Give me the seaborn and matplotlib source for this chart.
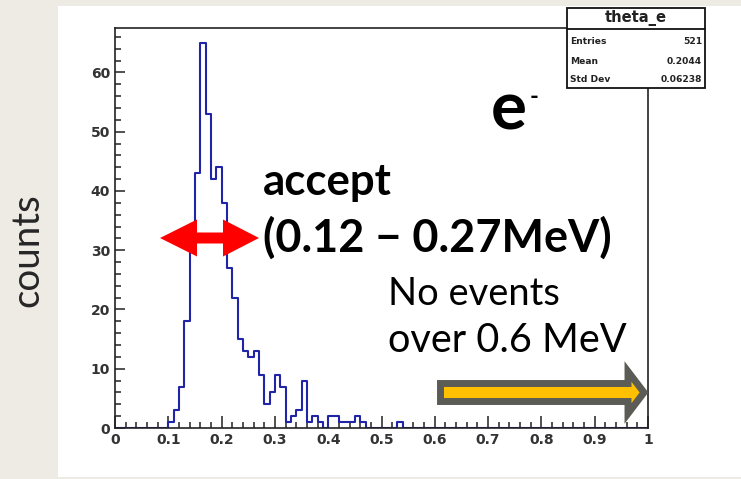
import numpy as np
import pandas as pd
import matplotlib
matplotlib.use("Agg")
import matplotlib.pyplot as plt
import seaborn as sns
from matplotlib.patches import Rectangle, Polygon
from matplotlib.lines import Line2D
from matplotlib.ticker import MultipleLocator

# ---------------- data ----------------
bin_width = 0.01
first_bin_low = 0.10
counts = [1, 3, 7, 18, 33, 43, 65, 53, 42, 44, 38, 27, 22, 15, 13, 12, 13, 9, 4, 6,
          9, 7, 1, 2, 3, 8, 1, 2, 1, 0, 2, 2, 1, 1, 1, 2, 1, 0, 0, 0, 0, 0, 0, 1]
x_ticks = [0, 0.1, 0.2, 0.3, 0.4, 0.5, 0.6, 0.7, 0.8, 0.9, 1.0]
x_tick_labels = ["0", "0.1", "0.2", "0.3", "0.4", "0.5", "0.6", "0.7", "0.8", "0.9", "1"]
y_ticks = [0, 10, 20, 30, 40, 50, 60]
y_tick_labels = ["0", "10", "20", "30", "40", "50", "60"]
stats_title = "theta_e"
stats_names = ["Entries", "Mean", "Std Dev"]
stats_values = ["521", "0.2044", "0.06238"]

# ---------------- figure ----------------
W, H = 741, 479
sns.set_theme(style="white")
plt.rcParams["font.family"] = ["Lato", "DejaVu Sans"]

fig = plt.figure(figsize=(W / 100, H / 100), dpi=100)
fig.patch.set_facecolor("#eeebe4")


def fx(px):
    return px / W


def fy(py):
    return 1 - py / H


# white slide panel
fig.add_artist(Rectangle((fx(58), fy(477)), fx(W) - fx(58), fy(6) - fy(477),
                         transform=fig.transFigure, facecolor="white",
                         edgecolor="none", zorder=-10))

ax = fig.add_axes([fx(115), fy(428), fx(648) - fx(115), fy(28) - fy(428)])
ax.set_facecolor("white")

df = pd.DataFrame({
    "x": [first_bin_low + bin_width * (i + 0.5) for i in range(len(counts))],
    "w": counts,
})
edges = [round(i * bin_width, 4) for i in range(int(round(1 / bin_width)) + 1)]
sns.histplot(data=df, x="x", weights="w", bins=edges, element="step", fill=False,
             color="#2024a6", linewidth=1.5, ax=ax)

ax.set_xlim(0, 1)
ax.set_ylim(0, 67.5)
ax.set_xlabel("")
ax.set_ylabel("")
ax.set_xticks(x_ticks)
ax.set_xticklabels(x_tick_labels)
ax.set_yticks(y_ticks)
ax.set_yticklabels(y_tick_labels)
ax.xaxis.set_minor_locator(MultipleLocator(0.02))
ax.yaxis.set_minor_locator(MultipleLocator(2))
ax.tick_params(which="both", direction="in", color="#222222", width=1.1,
               bottom=True, left=True, top=False, right=False)
ax.tick_params(axis="x", which="major", length=8.5, pad=3.5)
ax.tick_params(axis="x", which="minor", length=4.5)
ax.tick_params(axis="y", which="major", length=7.5, pad=3.5)
ax.tick_params(axis="y", which="minor", length=4.5)
for lab in ax.get_xticklabels() + ax.get_yticklabels():
    lab.set_fontfamily("DejaVu Sans")
    lab.set_fontweight("bold")
    lab.set_fontsize(10)
    lab.set_color("#333333")
for sp in ax.spines.values():
    sp.set_color("#222222")
    sp.set_linewidth(1.2)
    sp.set_visible(True)

renderer = fig.canvas.get_renderer()


def fit_text(x_px, y_px, s, target, size0=20, rotation=0, ha="left",
             va="baseline", **kw):
    t = fig.text(fx(x_px), fy(y_px), s, fontsize=size0, rotation=rotation,
                 ha=ha, va=va, zorder=20, **kw)
    bb = t.get_window_extent(renderer=renderer)
    span = bb.height if rotation else bb.width
    t.set_fontsize(size0 * target / span)
    return t


# slide annotations
fit_text(27, 250, "counts", 114, rotation=90, ha="center", va="center",
         color="#262626")
fit_text(491, 129, "e", 36, fontweight="bold", color="black")
fit_text(530, 104, "-", 9, fontweight="bold", color="black")
fit_text(263, 195, "accept", 129, fontweight="bold", color="black")
fit_text(263, 252, "(0.12 \u2212 0.27MeV)", 349, fontweight="bold", color="black")
fit_text(388, 305, "No events", 172, color="black")
fit_text(388, 352, "over 0.6 MeV", 239, color="black")

# red double arrow
cy = 238
red_pts = [(160, cy), (197, cy - 18.5), (197, cy - 5.5), (223, cy - 5.5),
           (223, cy - 18.5), (259, cy), (223, cy + 18.5), (223, cy + 5.5),
           (197, cy + 5.5), (197, cy + 18.5)]
fig.add_artist(Polygon([(fx(a), fy(b)) for a, b in red_pts], closed=True,
                       transform=fig.transFigure, facecolor="#ff0000",
                       edgecolor="none", zorder=15))

# yellow block arrow
ay = 392.5
yel_pts = [(440.5, ay - 9), (628, ay - 9), (628, ay - 21), (644, ay),
           (628, ay + 21), (628, ay + 9), (440.5, ay + 9)]
fig.add_artist(Polygon([(fx(a), fy(b)) for a, b in yel_pts], closed=True,
                       transform=fig.transFigure, facecolor="#ffc000",
                       edgecolor="#5c5c56", linewidth=5.0, joinstyle="miter",
                       zorder=15))

# stats box
bx0, bx1, by0, by1 = 567, 705, 8, 88
fig.add_artist(Rectangle((fx(bx0), fy(by1)), fx(bx1) - fx(bx0), fy(by0) - fy(by1),
                         transform=fig.transFigure, facecolor="white",
                         edgecolor="#111111", linewidth=1.3, zorder=16))
fig.add_artist(Line2D([fx(bx0), fx(bx1)], [fy(28.5), fy(28.5)],
                      transform=fig.transFigure, color="#111111",
                      linewidth=1.3, zorder=17))
fit_text((bx0 + bx1) / 2, 18, stats_title, 62, size0=9, ha="center",
         va="center", family="DejaVu Sans", fontweight="bold", color="#222222")
for i, (nm, val) in enumerate(zip(stats_names, stats_values)):
    yy = [42, 61, 80][i]
    fig.text(fx(570), fy(yy), nm, ha="left", va="center", fontsize=6.6,
             family="DejaVu Sans", fontweight="bold", color="#222222", zorder=18)
    fig.text(fx(702), fy(yy), val, ha="right", va="center", fontsize=6.6,
             family="DejaVu Sans", fontweight="bold", color="#222222", zorder=18)

fig.savefig("out.png", dpi=100, facecolor=fig.get_facecolor())
